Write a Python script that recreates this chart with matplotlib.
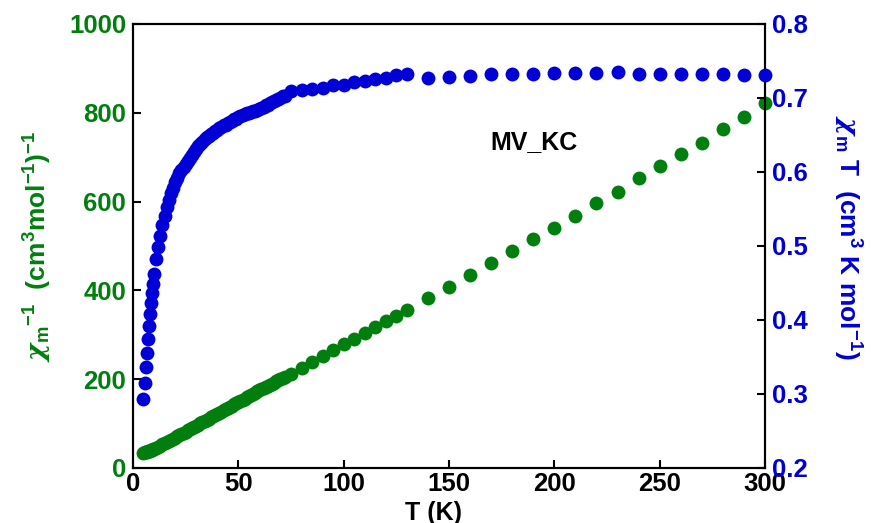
import numpy as np
import matplotlib.pyplot as plt

plt.rcParams['font.family'] = ['Liberation Sans', 'DejaVu Sans']
plt.rcParams['font.weight'] = 'bold'
plt.rcParams['mathtext.fontset'] = 'custom'
plt.rcParams['mathtext.rm'] = 'Liberation Sans:bold'
plt.rcParams['mathtext.it'] = 'Liberation Sans:bold'
plt.rcParams['mathtext.bf'] = 'Liberation Sans:bold'
plt.rcParams['mathtext.sf'] = 'DejaVu Serif:italic'
plt.rcParams['mathtext.default'] = 'rm'

# temperature (K)
T = [5, 5.5, 6, 6.5, 7, 7.5, 8, 8.5, 9, 9.5, 10,
     11, 12, 13, 14, 15, 16, 17, 18, 19, 20, 21, 22, 23, 24, 25, 26, 27, 28, 29, 30,
     31, 32, 33, 34, 35, 36, 37, 38, 39, 40, 41, 42, 43, 44, 45, 46, 47, 48, 49, 50,
     51, 52, 53, 54, 55, 56, 57, 58, 59, 60, 61, 62, 63, 64, 65, 66, 67, 68, 69, 70,
     71, 72,
     75, 80, 85, 90, 95, 100, 105, 110, 115, 120, 125, 130,
     140, 150, 160, 170, 180, 190, 200, 210, 220, 230, 240, 250, 260, 270, 280, 290, 300]

# chi_m T (cm3 K mol-1)
chiT = [0.293, 0.315, 0.336, 0.356, 0.374, 0.392, 0.408, 0.423, 0.436, 0.449, 0.462,
        0.482, 0.499, 0.514, 0.528, 0.541, 0.553, 0.562, 0.571, 0.579, 0.586, 0.592,
        0.598, 0.603, 0.607, 0.611, 0.615, 0.619, 0.623, 0.627, 0.631,
        0.635, 0.638, 0.641, 0.644, 0.647, 0.649, 0.651, 0.653, 0.655, 0.657,
        0.659, 0.661, 0.663, 0.664, 0.666, 0.668, 0.669, 0.671, 0.672, 0.674,
        0.675, 0.677, 0.678, 0.679, 0.680, 0.681, 0.682, 0.683, 0.684, 0.685,
        0.687, 0.688, 0.690, 0.691, 0.693, 0.694, 0.696, 0.697, 0.699, 0.700,
        0.702, 0.703,
        0.709, 0.711, 0.712, 0.714, 0.717, 0.717, 0.721, 0.723, 0.725, 0.727, 0.731, 0.733,
        0.727, 0.728, 0.730, 0.732, 0.733, 0.733, 0.734, 0.734, 0.734, 0.735,
        0.732, 0.733, 0.732, 0.732, 0.732, 0.731, 0.731]

# inverse susceptibility (cm3 mol-1)-1
chi_inv = [34.1, 34.9, 35.7, 36.5, 37.4, 38.3, 39.2, 40.2, 41.3, 42.3, 43.3,
           45.6, 48.1, 50.6, 53.0, 55.5, 57.9, 60.5, 63.0, 65.6, 68.3, 70.9,
           73.6, 76.3, 79.1, 81.8, 84.6, 87.2, 89.9, 92.5, 95.1,
           97.6, 100.3, 103.0, 105.6, 108.2, 110.9, 113.7, 116.4, 119.1, 121.8,
           124.4, 127.1, 129.7, 132.5, 135.1, 137.7, 140.5, 143.1, 145.8, 148.4,
           151.1, 153.6, 156.3, 159.1, 161.8, 164.5, 167.2, 169.8, 172.5, 175.2,
           177.6, 180.2, 182.6, 185.2, 187.6, 190.2, 192.5, 195.1, 197.4, 200.0,
           202.3, 204.8,
           211.6, 225.0, 238.8, 252.1, 265.0, 278.9, 291.3, 304.3, 317.2, 330.1, 342.0, 354.7,
           383, 408, 435, 462, 488, 515, 541, 568, 596, 622,
           652, 679, 707, 733, 763, 791, 821]

green = '#007f0e'
blue = '#0000d6'

fig = plt.figure(figsize=(8.73, 5.23), dpi=100)
ax = fig.add_axes([0.1523, 0.1052, 0.724, 0.849])
ax2 = ax.twinx()

ax.scatter(T, chi_inv, s=100, color=green, linewidths=0, clip_on=False, zorder=3)
ax2.scatter(T, chiT, s=100, color=blue, linewidths=0, clip_on=False, zorder=3)

ax.set_xlim(0, 300)
ax.set_ylim(0, 1000)
ax2.set_ylim(0.2, 0.8)
ax.set_xticks(np.arange(0, 301, 50))
ax.set_yticks(np.arange(0, 1001, 200))
ax2.set_yticks(np.arange(0.2, 0.81, 0.1))
ax2.set_yticklabels(['0.2', '0.3', '0.4', '0.5', '0.6', '0.7', '0.8'])

for a in (ax, ax2):
    for sp in a.spines.values():
        sp.set_linewidth(1.5)
ax.tick_params(axis='x', direction='in', length=6, width=1.5, labelsize=18.5, pad=3)
ax.tick_params(axis='y', direction='in', length=6, width=1.5, labelsize=18.5,
               labelcolor=green, pad=5)
ax2.tick_params(axis='y', direction='in', length=6, width=1.5, labelsize=18.5,
                labelcolor=blue, pad=5)

ax.set_xlabel('T (K)', fontsize=18, fontweight='bold')
ax.xaxis.set_label_coords(0.475, -0.075)
ax.set_ylabel(r'$\mathsf{\chi}_{m}$$^{-1}$  (cm$^3$mol$^{-1}$)$^{-1}$', fontsize=19,
              color=green, fontweight='bold')
ax.yaxis.set_label_coords(-0.125, 0.5)
ax2.set_ylabel(r'$\mathsf{\chi}_{m}$ T  (cm$^3$ K mol$^{-1}$)', fontsize=19, color=blue,
               fontweight='bold', rotation=270, va='bottom')
ax2.yaxis.set_label_coords(1.105, 0.52)

ax.text(0.635, 0.734, 'MV_KC', transform=ax.transAxes, fontsize=18,
        fontweight='bold', ha='center', va='center')

fig.savefig('out.png', dpi=100)
